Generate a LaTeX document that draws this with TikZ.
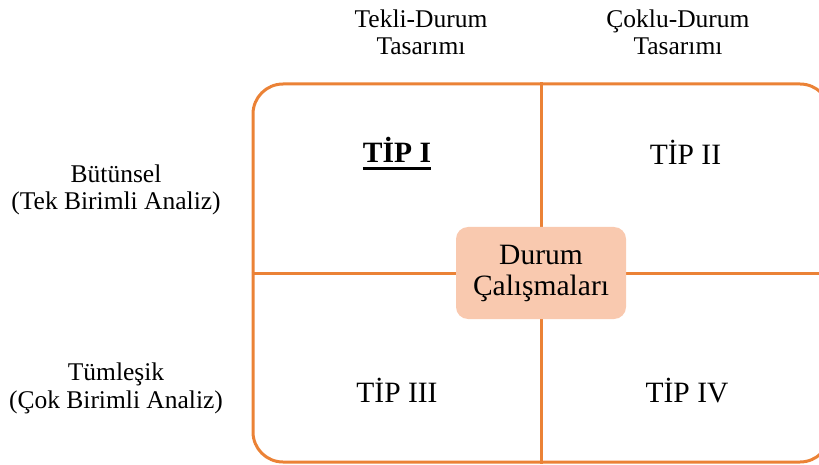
\documentclass[tikz,border=0pt]{standalone}
\usepackage{fontspec}
\setmainfont{Liberation Serif}
\definecolor{accent}{HTML}{EB8236}
\definecolor{peach}{HTML}{F9C9AF}
% bold text with a heavy underline
\newcommand\heavyul[1]{\setbox0\hbox{#1}\makebox[0pt][l]{\rule[-7pt]{\wd0}{2.8pt}}\box0}
\tikzset{
  axislbl/.style={inner sep=0pt, anchor=base, align=center, font=\fontsize{25.5}{27.5}\selectfont},
  tiplbl/.style={inner sep=0pt, anchor=base, font=\fontsize{29.5}{31}\selectfont},
  divider/.style={draw=accent, line width=3pt},
}
\begin{document}
\begin{tikzpicture}[x=1pt,y=-1pt]
\useasboundingbox (0,0) rectangle (819,465);
\clip (0,0) rectangle (819,465);

% outer frame and the two dividing lines
\node[draw=accent, line width=3pt, rounded corners=30pt, minimum width=577pt,
      minimum height=378pt, inner sep=0pt] (frame) at (541.5,273) {};
\draw[divider] (frame.north) -- (frame.south);
\draw[divider] (frame.west) -- (frame.east);

% central box
\node[fill=peach, rounded corners=12pt, minimum width=170pt, minimum height=92pt,
      inner sep=0pt, align=center, font=\fontsize{29.5}{31}\selectfont]
      (core) at (541,273) {Durum\\Çalışmaları};

% column headers (anchored at the baseline of their last line)
\node[axislbl] (single) at (421,55) {Tekli-Durum\\Tasarımı};
\node[axislbl] (multi) at (678,55) {Çoklu-Durum\\Tasarımı};

% row headers
\node[axislbl] (holistic) at (116,210) {Bütünsel\\(Tek Birimli Analiz)};
\node[axislbl] (embedded) at (116,408) {Tümleşik\\(Çok Birimli Analiz)};

% the four types
\node[tiplbl] (t1) at (397,163) {\heavyul{\textbf{TİP I}}};
\node[tiplbl] (t2) at (685.5,165) {TİP II};
\node[tiplbl] (t3) at (397,402) {TİP III};
\node[tiplbl] (t4) at (687,402) {TİP IV};
\end{tikzpicture}
\end{document}
